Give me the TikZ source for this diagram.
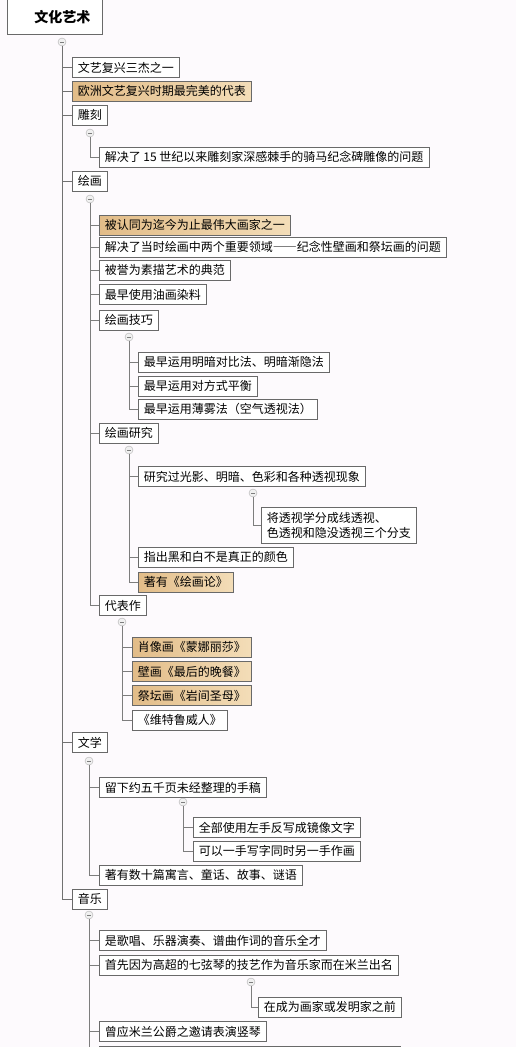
\documentclass[tikz,border=0pt]{standalone}
\usepackage{fontspec}
\newfontfamily\cjk{Noto Sans CJK SC}
\definecolor{bg}{RGB}{253,250,253}
\definecolor{edge}{RGB}{105,105,105}
\definecolor{wire}{RGB}{125,125,125}
\definecolor{tanL}{RGB}{226,188,136}
\definecolor{tanR}{RGB}{243,221,184}
\begin{document}
\begin{tikzpicture}[x=1pt,y=-1pt,
  box/.style={draw=edge, fill=white, line width=0.6pt, anchor=west, minimum height=20pt,
    inner xsep=5.5pt, inner ysep=2pt, font=\cjk\fontsize{12}{15}\selectfont},
  hl/.style={box, left color=tanL, right color=tanR},
  tog/.style={circle, draw=wire!60, fill=gray!12, minimum size=8pt, inner sep=0pt,
    path picture={\draw[wire, line width=0.5pt]
      ([xshift=-2pt]path picture bounding box.center) -- ([xshift=2pt]path picture bounding box.center);}},
  link/.style={draw=wire, line width=0.7pt},
  trunk/.style={draw=wire!90!black, line width=1pt}]
\fill[bg] (0,0) rectangle (516,1047);
\useasboundingbox (0,0) rectangle (516,1047);
\clip (0,0) rectangle (516,1047);

% root
\node[draw=edge, fill=white, line width=0.6pt, anchor=south west,
  text height=31pt, text depth=9pt, inner ysep=3pt,
  inner xsep=12pt, font=\cjk\bfseries\fontsize{14}{16}\selectfont] (root) at (7,35) {\hspace*{15pt}文化艺术};
\node[tog] (t0) at (62,42) {};

% level 1
\node[box] (a1) at (72,67.5) {文艺复兴三杰之一};
\node[hl]  (a2) at (72,91) {欧洲文艺复兴时期最完美的代表};
\node[box] (a3) at (72,115) {雕刻};
\node[tog] (t3) at (90,133) {};
\node[box] (a3a) at (99,157) {解决了 15 世纪以来雕刻家深感棘手的骑马纪念碑雕像的问题};
\node[box] (a4) at (72,181) {绘画};
\node[tog] (t4) at (90,199) {};
\node[hl]  (b1) at (99,225) {被认同为迄今为止最伟大画家之一};
\node[box] (b2) at (99,247) {解决了当时绘画中两个重要领域{\addfontfeatures{RawFeature=+fwid}——}纪念性壁画和祭坛画的问题};
\node[box] (b3) at (99,270) {被誉为素描艺术的典范};
\node[box] (b4) at (99,294.5) {最早使用油画染料};
\node[box] (b5) at (99,320) {绘画技巧};
\node[tog] (t5) at (129,337) {};
\node[box] (b5a) at (138,362) {最早运用明暗对比法、明暗渐隐法};
\node[box] (b5b) at (138,386) {最早运用对方式平衡};
\node[box] (b5c) at (138,409) {最早运用薄雾法（空气透视法）};
\node[box] (b6) at (99,433) {绘画研究};
\node[tog] (t6) at (129,450) {};
\node[box] (b6a) at (138,476.5) {研究过光影、明暗、色彩和各种透视现象};
\node[tog] (t6a) at (253,493) {};
\node[box, align=left, minimum height=36pt] (b6a1) at (261,525) {将透视学分成线透视、\\色透视和隐没透视三个分支};
\node[box] (b6b) at (138,557) {指出黑和白不是真正的颜色};
\node[hl]  (b6c) at (138,582) {著有《绘画论》};
\node[box] (b7) at (99,605.5) {代表作};
\node[tog] (t7) at (122,622) {};
\node[hl]  (b7a) at (132,647) {肖像画《蒙娜丽莎》};
\node[hl]  (b7b) at (132,671.5) {壁画《最后的晚餐》};
\node[hl]  (b7c) at (132,695.5) {祭坛画《岩间圣母》};
\node[box] (b7d) at (132,720) {《维特鲁威人》};
\node[box] (a5) at (72,742.5) {文学};
\node[tog] (t8) at (89,761) {};
\node[box] (c1) at (99,787.5) {留下约五千页未经整理的手稿};
\node[tog] (t9) at (183,802) {};
\node[box] (c1a) at (193,827.5) {全部使用左手反写成镜像文字};
\node[box] (c1b) at (193,851) {可以一手写字同时另一手作画};
\node[box] (c2) at (99,875) {著有数十篇寓言、童话、故事、谜语};
\node[box] (a6) at (72,899) {音乐};
\node[tog] (t10) at (89,915) {};
\node[box] (d1) at (99,940.5) {是歌唱、乐器演奏、谱曲作词的音乐全才};
\node[box] (d2) at (99,965) {首先因为高超的七弦琴的技艺作为音乐家而在米兰出名};
\node[tog] (t11) at (251,982) {};
\node[box] (d2a) at (258,1007) {在成为画家或发明家之前};
\node[box] (d3) at (99,1031.5) {曾应米兰公爵之邀请表演竖琴};
\node[box, minimum width=301pt, minimum height=24pt] (d4) at (99,1058) {};

% connectors
\foreach \n in {a1,a2,a3,a4,a5,a6} \draw[trunk] (t0.south) |- (\n.west);
\draw[link] (t3.south) |- (a3a.west);
\foreach \n in {b1,b2,b3,b4,b5,b6,b7} \draw[link] (t4.south) |- (\n.west);
\foreach \n in {b5a,b5b,b5c} \draw[link] (t5.south) |- (\n.west);
\foreach \n in {b6a,b6b,b6c} \draw[link] (t6.south) |- (\n.west);
\draw[link] (t6a.south) |- (b6a1.west);
\foreach \n in {b7a,b7b,b7c,b7d} \draw[link] (t7.south) |- (\n.west);
\foreach \n in {c1,c2} \draw[link] (t8.south) |- (\n.west);
\foreach \n in {c1a,c1b} \draw[link] (t9.south) |- (\n.west);
\foreach \n in {d1,d2,d3,d4} \draw[link] (t10.south) |- (\n.west);
\draw[link] (t11.south) |- (d2a.west);
\end{tikzpicture}
\end{document}
